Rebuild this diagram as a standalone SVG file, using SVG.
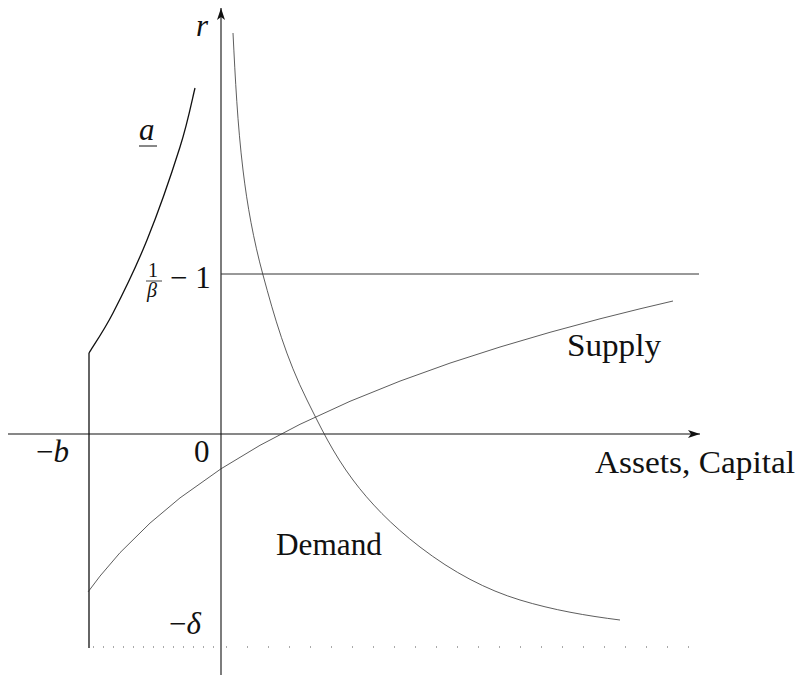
<svg xmlns="http://www.w3.org/2000/svg" width="802" height="675" viewBox="0 0 802 675">
<style>
text{font-family:"Liberation Serif","DejaVu Serif",serif;fill:#111}
.lbl{font-size:31px}
.it{font-style:italic}
.ax{stroke:#111;stroke-width:1.1;fill:none}
.thin{stroke:#333;stroke-width:0.8;fill:none}
</style>
<defs>
<marker id="arr" viewBox="0 0 12 8" refX="12" refY="4" markerWidth="12" markerHeight="8" markerUnits="userSpaceOnUse" orient="auto">
<path d="M0,0 L12,4 L0,8 L3,4 Z" fill="#111"/>
</marker>
</defs>
<g id="connectors">
<line id="x-axis" class="ax" x1="8" y1="434" x2="700" y2="434" marker-end="url(#arr)"/>
<line id="y-axis" class="ax" x1="221" y1="675" x2="221" y2="8" marker-end="url(#arr)"/>
<line id="beta-line" stroke="#333" stroke-width="1" x1="221" y1="274" x2="699" y2="274"/>
<line id="borrow-limit" stroke="#111" stroke-width="1.3" x1="89" y1="353" x2="89" y2="648"/>
<line id="delta-left" stroke="#555" stroke-width="1" stroke-dasharray="1 9" x1="93" y1="647" x2="221" y2="647"/>
<line id="delta-right" stroke="#555" stroke-width="1" stroke-dasharray="1 20" x1="226" y1="647" x2="700" y2="647"/>
<path id="a-curve" stroke="#111" stroke-width="1.3" fill="none" d="M89,353 C93,346.3 103.3,331.8 113,313 C122.7,294.2 135.8,267.7 147,240 C158.2,212.3 172,172.3 180,147 C188,121.7 192.5,97.8 195,88"/>
<polyline id="supply" class="thin" points="88,592 100,576.1 120,552.7 150,523.1 180,497.9 221,468.8 260,445.3 300,424.3 350,401.3 400,381.1 450,363.1 500,347 550,332.3 600,318.8 640,308.8 673,301"/>
<path id="demand" class="thin" d="M233,33 C235.3,78.7 237.5,124.3 243,170 C247.2,205 253.5,240 263,275 C274.3,316.7 286.2,358.3 307,400 C320.3,426.7 333,453.3 353,480 C369.7,502.3 391,524.7 420,547 C453.3,572.6 486.7,589.9 520,600 C553.3,610.1 586.7,615.8 620,620"/>
</g>
<g id="label-r"><text class="lbl it" x="196" y="36">r</text></g>
<g id="label-a"><text class="lbl it" x="139" y="140">a</text><line x1="139" y1="146" x2="157" y2="146" stroke="#111" stroke-width="1"/></g>
<g id="label-beta">
<text x="148" y="277" style="font-size:20px">1</text>
<line x1="146" y1="281" x2="162" y2="281" stroke="#111" stroke-width="0.8"/>
<text class="it" x="147" y="297" style="font-size:20px">β</text>
<text class="lbl" x="170" y="288">− 1</text>
</g>
<g id="label-minus-b"><text class="lbl" x="36" y="462">−<tspan class="it">b</tspan></text></g>
<g id="label-zero"><text class="lbl" x="194" y="462">0</text></g>
<g id="label-delta"><text class="lbl" x="169" y="634">−<tspan class="it">δ</tspan></text></g>
<g id="label-supply"><text class="lbl" x="567" y="356" textLength="94" lengthAdjust="spacingAndGlyphs">Supply</text></g>
<g id="label-demand"><text class="lbl" x="276" y="555" textLength="106" lengthAdjust="spacingAndGlyphs">Demand</text></g>
<g id="label-assets"><text class="lbl" x="595" y="473" textLength="200" lengthAdjust="spacingAndGlyphs">Assets, Capital</text></g>
</svg>
